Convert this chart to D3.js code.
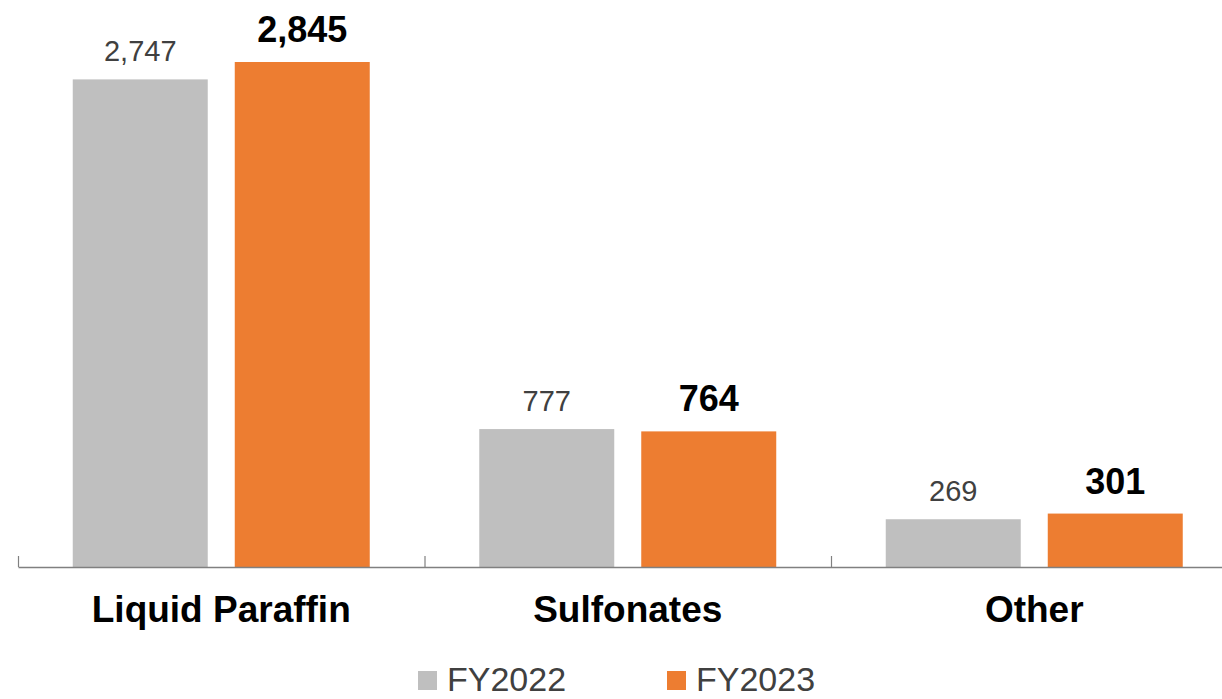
<!DOCTYPE html>
<html>
<head>
<meta charset="utf-8">
<script src="https://cdn.jsdelivr.net/npm/d3@7"></script>
<style>
  html, body { margin: 0; padding: 0; background: #fff; overflow: hidden; }
  svg { display: block; font-family: Arial, "Liberation Sans", sans-serif; }
</style>
</head>
<body>
<svg width="1222" height="699"></svg>
<script>
// chart values
var categories = ['Liquid Paraffin', 'Sulfonates', 'Other'];
var seriesNames = ['FY2022', 'FY2023'];
var fy2022 = [2747, 777, 269];
var fy2023 = [2845, 764, 301];
var seriesColors = ['#bfbfbf', '#ed7d31'];

var svg = d3.select('svg');

var baseY = 567;
var plotLeft = 18;
var bandW = 406.5;

// build rows from the arrays
var data = categories.map(function(c, i) {
    return {category: c, values: [fy2022[i], fy2023[i]]};
});

var x0 = d3.scaleBand()
    .domain(categories)
    .range([plotLeft, plotLeft + bandW * categories.length])
    .padding(0);

var x1 = d3.scaleBand()
    .domain(seriesNames)
    .range([0, x0.bandwidth()])
    .paddingInner(0.1667)
    .paddingOuter(0.338);

var yScale = d3.scaleLinear()
    .domain([0, d3.max(fy2023.concat(fy2022))])
    .range([baseY, 62]);

// bars
var groups = svg.selectAll('g.cat')
    .data(data)
    .enter()
    .append('g')
    .attr('class', 'cat')
    .attr('transform', function(d) { return 'translate(' + x0(d.category) + ',0)'; });

groups.selectAll('rect')
    .data(function(d) { return d.values.map(function(v, i) { return {key: seriesNames[i], value: v, idx: i}; }); })
    .enter()
    .append('rect')
    .attr('x', function(d) { return x1(d.key); })
    .attr('width', x1.bandwidth())
    .attr('y', function(d) { return yScale(d.value); })
    .attr('height', function(d) { return baseY - yScale(d.value); })
    .attr('fill', function(d) { return seriesColors[d.idx]; });

// value labels
var fmt = d3.format(',');
groups.selectAll('text.val')
    .data(function(d) { return d.values.map(function(v, i) { return {key: seriesNames[i], value: v, idx: i}; }); })
    .enter()
    .append('text')
    .attr('class', 'val')
    .attr('x', function(d) { return x1(d.key) + x1.bandwidth() / 2; })
    .attr('y', function(d) { return yScale(d.value) - (d.idx === 1 ? 20 : 18); })
    .attr('text-anchor', 'middle')
    .style('font-size', function(d) { return d.idx === 1 ? '36px' : '29px'; })
    .style('font-weight', function(d) { return d.idx === 1 ? 'bold' : 'normal'; })
    .style('fill', function(d) { return d.idx === 1 ? '#000' : '#404040'; })
    .text(function(d) { return fmt(d.value); });

// x axis
var axisG = svg.append('g')
    .attr('transform', 'translate(0,' + baseY + ')')
    .call(d3.axisBottom(x0).tickSize(0).tickSizeOuter(0));

axisG.select('.domain')
    .attr('stroke', '#808080')
    .attr('stroke-width', 1.5);

axisG.selectAll('.tick text')
    .attr('y', 55)
    .attr('dy', null)
    .style('font-size', '37px')
    .style('font-weight', 'bold')
    .style('fill', '#000')
    .style('font-family', 'Arial, "Liberation Sans", sans-serif');

// boundary ticks between categories
var bounds = categories.map(function(c) { return x0(c); });
bounds.push(x0.range()[1]);
axisG.selectAll('line.sep')
    .data(bounds)
    .enter()
    .append('line')
    .attr('class', 'sep')
    .attr('x1', function(d) { return d + 0.5; })
    .attr('x2', function(d) { return d + 0.5; })
    .attr('y1', -11)
    .attr('y2', 0)
    .attr('stroke', '#808080')
    .attr('stroke-width', 1.2);

// legend (kept just inside the bottom edge)
var legendX = [418, 667];
var legend = svg.selectAll('g.legend')
    .data(seriesNames)
    .enter()
    .append('g')
    .attr('class', 'legend')
    .attr('transform', function(d, i) { return 'translate(' + legendX[i] + ',671)'; });

legend.append('rect')
    .attr('width', 19)
    .attr('height', 19)
    .attr('fill', function(d, i) { return seriesColors[i]; });

legend.append('text')
    .attr('x', 29)
    .attr('y', 20)
    .style('font-size', '34px')
    .style('fill', '#404040')
    .text(function(d) { return d; });
</script>
</body>
</html>
